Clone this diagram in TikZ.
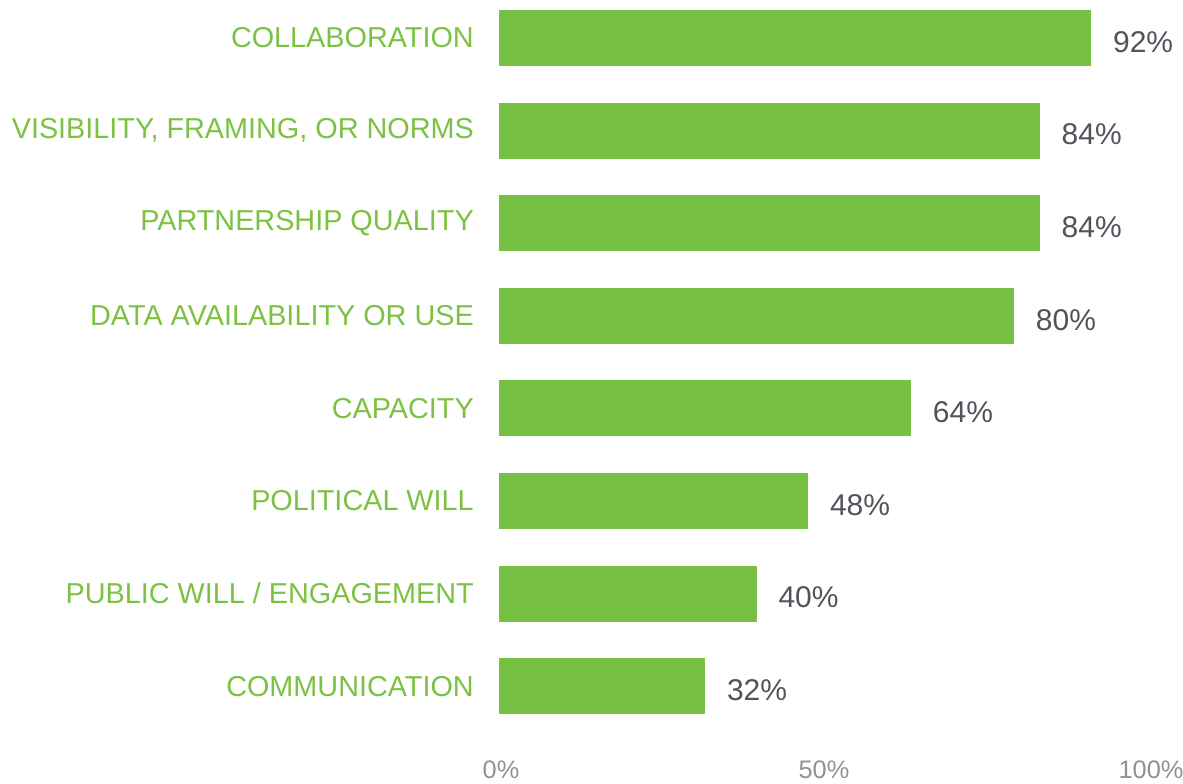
\documentclass[tikz,border=0pt]{standalone}
\usepackage{fontspec}
\setmainfont{Liberation Sans}
\definecolor{barg}{HTML}{76C043}
\definecolor{labg}{HTML}{7CC242}
\definecolor{valc}{HTML}{50545A}
\definecolor{axc}{HTML}{8E9297}
\begin{document}
\begin{tikzpicture}[x=0.75pt,y=-0.75pt,
  lab/.style={anchor=east,inner sep=0pt,text=labg,font=\fontsize{21.6}{21.6}\selectfont},
  bar/.style={anchor=west,fill=barg,draw=none,inner sep=0pt,minimum height=42pt},
  val/.style={anchor=west,inner sep=0pt,text=valc,font=\fontsize{22.5}{22.5}\selectfont},
  ax/.style={inner sep=0pt,text=axc,font=\fontsize{19}{19}\selectfont}]
\useasboundingbox (0,0) rectangle (1183,783);
\foreach \i/\lab/\v in {1/{COLLABORATION}/92,2/{VISIBILITY, FRAMING, OR NORMS}/84,3/{PARTNERSHIP QUALITY}/84,4/{DATA AVAILABILITY OR USE}/80,5/{CAPACITY}/64,6/{POLITICAL WILL}/48,7/{PUBLIC WILL {/} ENGAGEMENT}/40,8/{COMMUNICATION}/32}{
  \pgfmathsetmacro\yc{38+92.6*(\i-1)}
  \node[lab] (l\i) at (474,\yc) {\lab};
  \node[bar,minimum width={4.826*\v pt}] (b\i) at (499,\yc) {};
  \node[val] (v\i) at ([xshift=16pt,yshift=-3pt]b\i.east) {\v\%};
}
\node[ax] (a0) at (501,770) {0\%};
\node[ax] (a50) at (824,770) {50\%};
\node[ax] (a100) at (1151,770) {100\%};
\end{tikzpicture}
\end{document}
